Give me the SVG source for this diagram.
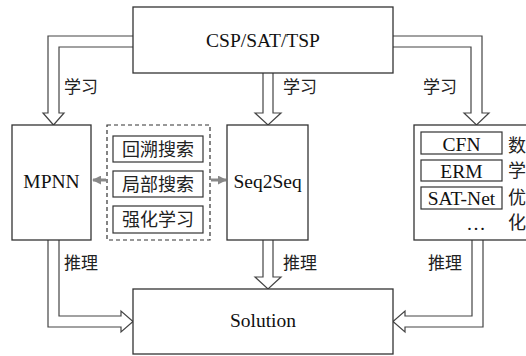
<svg xmlns="http://www.w3.org/2000/svg" width="526" height="356" viewBox="0 0 526 356">
<defs>
<style>
.box{fill:#fff;stroke:#333;stroke-width:1.3}
.inner{fill:#fff;stroke:#333;stroke-width:1.2}
.dash{fill:none;stroke:#333;stroke-width:1.2;stroke-dasharray:4 3}
.harrow{fill:#fff;stroke:#444;stroke-width:1.2;stroke-linejoin:miter}
.lat{font-family:"Liberation Serif","Noto Sans CJK SC",serif;font-size:19.5px;fill:#111}
.cjk{font-family:"Liberation Serif","Noto Sans CJK SC",serif;font-size:17px;fill:#222}
.cjkb{font-family:"Liberation Serif","Noto Sans CJK SC",serif;font-size:18px;fill:#222}
.garrow{stroke:#888;stroke-width:3;fill:none}
</style>
<marker id="gh" viewBox="0 0 10 10" refX="9" refY="5" markerWidth="3" markerHeight="3" orient="auto" markerUnits="strokeWidth">
<path d="M0,0 L10,5 L0,10 z" fill="#888"/>
</marker>
</defs>
<rect width="526" height="356" fill="#fff"/>
<g id="connectors">
<path class="harrow" d="M133,36 L48,36 L48,113 L43,113 L53.5,125 L64,113 L59,113 L59,47 L133,47"/>
<path class="harrow" d="M263,73 L263,113 L255,113 L268,125 L281,113 L273,113 L273,73"/>
<path class="harrow" d="M393,36 L482,36 L482,113 L489,113 L476.5,125 L464,113 L471,113 L471,47 L393,47"/>
<path class="harrow" d="M48,240 L48,327 L121,327 L121,332 L133,321.5 L121,311 L121,316 L59,316 L59,240"/>
<path class="harrow" d="M263,240 L263,277 L255,277 L268,289 L281,277 L273,277 L273,240"/>
<path class="harrow" d="M483,240 L483,327 L405,327 L405,332 L393,321.5 L405,311 L405,316 L472,316 L472,240"/>
<line class="garrow" x1="106" y1="180" x2="93" y2="180" marker-end="url(#gh)"/>
<line class="garrow" x1="211" y1="180" x2="226" y2="180" marker-end="url(#gh)"/>
<text class="cjk" x="64" y="93">学习</text>
<text class="cjk" x="283" y="93">学习</text>
<text class="cjk" x="423" y="93">学习</text>
<text class="cjk" x="64" y="269">推理</text>
<text class="cjk" x="283" y="269">推理</text>
<text class="cjk" x="428" y="269">推理</text>
</g>
<g id="top">
<rect class="box" x="133" y="7" width="260" height="66"/>
<text class="lat" x="263" y="47" text-anchor="middle">CSP/SAT/TSP</text>
</g>
<g id="mpnn">
<rect class="box" x="12" y="125" width="79" height="115"/>
<text class="lat" x="51.5" y="188" text-anchor="middle">MPNN</text>
</g>
<g id="methods">
<rect class="dash" x="107" y="125" width="103" height="115"/>
<rect class="inner" x="113" y="136" width="90" height="26"/>
<text class="cjkb" x="158" y="156" text-anchor="middle">回溯搜索</text>
<rect class="inner" x="113" y="171" width="90" height="26"/>
<text class="cjkb" x="158" y="191" text-anchor="middle">局部搜索</text>
<rect class="inner" x="113" y="206" width="90" height="27"/>
<text class="cjkb" x="158" y="226" text-anchor="middle">强化学习</text>
</g>
<g id="seq2seq">
<rect class="box" x="227" y="125" width="81" height="115"/>
<text class="lat" x="267.5" y="188" text-anchor="middle">Seq2Seq</text>
</g>
<g id="mathopt">
<rect class="box" x="414" y="125" width="130" height="115"/>
<rect class="inner" x="421" y="132" width="81" height="22"/>
<text class="lat" x="461.5" y="151" text-anchor="middle">CFN</text>
<rect class="inner" x="421" y="160" width="81" height="21"/>
<text class="lat" x="461.5" y="178" text-anchor="middle">ERM</text>
<rect class="inner" x="421" y="187" width="81" height="22"/>
<text class="lat" x="461.5" y="205" text-anchor="middle">SAT-Net</text>
<text class="lat" x="476" y="230" text-anchor="middle">…</text>
<text class="cjkb" x="508" y="152">数</text>
<text class="cjkb" x="508" y="177">学</text>
<text class="cjkb" x="508" y="204">优</text>
<text class="cjkb" x="508" y="229">化</text>
</g>
<g id="solution">
<rect class="box" x="133" y="289" width="260" height="65"/>
<text class="lat" x="263" y="327" text-anchor="middle">Solution</text>
</g>
</svg>
